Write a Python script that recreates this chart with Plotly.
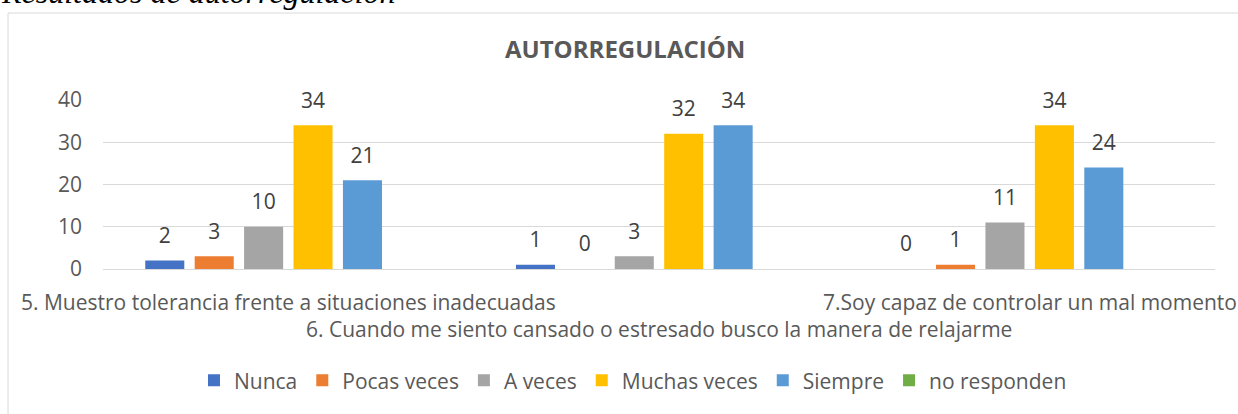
import plotly.graph_objects as go

categories = [
    "5. Muestro tolerancia frente a situaciones inadecuadas",
    "6. Cuando me siento cansado o estresado busco la manera de relajarme",
    "7.Soy capaz de controlar un mal momento",
]
series_names = ["Nunca", "Pocas veces", "A veces", "Muchas veces", "Siempre", "no responden"]
nunca = [2, 1, 0]
pocas_veces = [3, 0, 1]
a_veces = [10, 3, 11]
muchas_veces = [34, 32, 34]
siempre = [21, 34, 24]
no_responden = [None, None, None]
series_values = [nunca, pocas_veces, a_veces, muchas_veces, siempre, no_responden]
colors = ["#4472C4", "#ED7D31", "#A5A5A5", "#FFC000", "#5B9BD5", "#70AD47"]
y_ticks = [0, 10, 20, 30, 40]

chart_title = "AUTORREGULACIÓN"
doc_caption = "Resultados de autorregulación"

FONT = "Open Sans, sans-serif"
TXT = "#595959"
LBL = 21

fig = go.Figure()
for name, vals, col in zip(series_names, series_values, colors):
    fig.add_trace(go.Bar(
        name=name, x=categories, y=vals, marker=dict(color=col, line=dict(width=0)),
        texttemplate="<span style='font-size:%dpx'>%%{y}</span><br>\u00a0" % LBL,
        textposition="outside", cliponaxis=False,
        textfont=dict(family=FONT, size=9, color="#404040"),
        hoverinfo="skip",
    ))

annotations = []
for i, c in enumerate(categories):
    annotations.append(dict(
        x=c, xref="x", y=-0.193 if i % 2 == 0 else -0.357, yref="paper",
        text=c, showarrow=False, xanchor="center", yanchor="middle",
        font=dict(family=FONT, size=LBL, color=TXT),
    ))
annotations.append(dict(
    x=0.469, xref="paper", y=1.304, yref="paper", text="<b>" + chart_title + "</b>",
    showarrow=False, xanchor="center", yanchor="middle",
    font=dict(family=FONT, size=24, color=TXT),
))
annotations.append(dict(
    x=-0.0935, xref="paper", y=1.521, yref="paper", text="<i>" + doc_caption + "</i>",
    showarrow=False, xanchor="left", yanchor="bottom",
    font=dict(family="Liberation Serif, Times New Roman, serif", size=32, color="#000000"),
))

fig.update_layout(
    width=1238, height=414, autosize=False,
    margin=dict(l=103, r=23, t=100, b=143, pad=0),
    paper_bgcolor="white", plot_bgcolor="white",
    barmode="group", bargap=0.2, bargroupgap=0.21,
    showlegend=True,
    legend=dict(orientation="h", x=0.4766, xanchor="center", y=-0.661, yanchor="middle",
                font=dict(family=FONT, size=LBL, color=TXT), traceorder="normal",
                itemclick=False, itemdoubleclick=False),
    annotations=annotations,
    shapes=[dict(type="rect", xref="paper", yref="paper", x0=-0.0854, x1=1.05, y0=-0.9, y1=1.5146,
                 line=dict(color="#D9D9D9", width=1), fillcolor="rgba(0,0,0,0)", layer="below")],
    font=dict(family=FONT, color=TXT),
)
fig.update_yaxes(range=[0, 40], tickvals=y_ticks, gridcolor="#D9D9D9", gridwidth=1,
                 zeroline=False, showline=False, ticks="", ticklabelstandoff=20,
                 tickfont=dict(family=FONT, size=LBL, color=TXT))
fig.update_xaxes(range=[-0.5, 2.5], autorange=False, showticklabels=False, showgrid=False,
                 showline=True, linecolor="#D9D9D9", linewidth=1, ticks="", zeroline=False)

fig.write_html("out.html", config={"displayModeBar": False},
               post_script="document.body.style.margin='0px';")
